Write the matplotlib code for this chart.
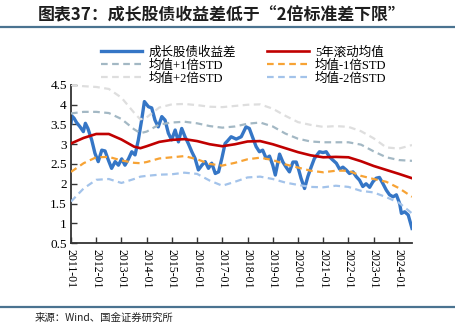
import matplotlib
matplotlib.use("Agg")
import matplotlib.pyplot as plt
from matplotlib.lines import Line2D

# ---------------- data ----------------
spread_x = [2011.00, 2011.03, 2011.12, 2011.22, 2011.36, 2011.49, 2011.57, 2011.67, 2011.82, 2011.95,
            2012.08, 2012.22, 2012.35, 2012.48, 2012.61, 2012.75, 2012.88, 2013.01, 2013.14, 2013.28,
            2013.41, 2013.54, 2013.67, 2013.80, 2013.91, 2014.07, 2014.20, 2014.33, 2014.46, 2014.60,
            2014.73, 2014.86, 2014.99, 2015.13, 2015.26, 2015.39, 2015.52, 2015.65, 2015.79, 2015.92,
            2016.05, 2016.19, 2016.32, 2016.45, 2016.58, 2016.72, 2016.85, 2016.98, 2017.11, 2017.20,
            2017.35, 2017.55, 2017.75, 2017.94, 2018.07, 2018.21, 2018.34, 2018.47, 2018.60, 2018.74,
            2018.87, 2019.00, 2019.10, 2019.27, 2019.40, 2019.53, 2019.66, 2019.80, 2019.93, 2020.03,
            2020.12, 2020.26, 2020.39, 2020.52, 2020.65, 2020.85, 2020.99, 2021.12, 2021.25, 2021.38,
            2021.52, 2021.65, 2021.78, 2021.91, 2022.04, 2022.18, 2022.31, 2022.44, 2022.57, 2022.70,
            2022.84, 2022.97, 2023.10, 2023.23, 2023.37, 2023.50, 2023.63, 2023.77, 2023.90, 2024.03,
            2024.10, 2024.23, 2024.37, 2024.52]
spread_y = [3.53, 3.72, 3.66, 3.55, 3.44, 3.32, 3.53, 3.40, 3.11, 2.77,
            2.56, 2.85, 2.83, 2.60, 2.39, 2.56, 2.47, 2.63, 2.47, 2.63,
            2.81, 2.73, 3.11, 3.61, 4.08, 3.95, 3.92, 3.61, 3.44, 3.70,
            3.61, 3.28, 3.11, 3.36, 3.06, 3.40, 3.19, 3.02, 2.81, 2.64,
            2.35, 2.47, 2.56, 2.39, 2.52, 2.26, 2.30, 2.64, 3.02, 3.08,
            3.19, 3.13, 3.19, 3.44, 3.40, 3.16, 2.94, 2.81, 2.85, 2.64,
            2.70, 2.47, 2.22, 2.75, 2.55, 2.42, 2.30, 2.55, 2.55, 2.35,
            2.14, 1.88, 2.18, 2.42, 2.64, 2.81, 2.79, 2.81, 2.68, 2.60,
            2.52, 2.37, 2.42, 2.35, 2.26, 2.30, 2.18, 2.09, 1.93, 2.00,
            1.91, 2.05, 2.14, 2.16, 2.00, 1.84, 1.72, 1.67, 1.72, 1.50,
            1.25, 1.29, 1.21, 0.87]

band_x = [2011.0, 2011.5, 2012.0, 2012.5, 2013.0, 2013.5, 2013.75, 2014.0, 2014.5, 2015.0,
          2015.5, 2016.0, 2016.5, 2017.0, 2017.5, 2018.0, 2018.5, 2019.0, 2019.5, 2020.0,
          2020.5, 2021.0, 2021.5, 2022.0, 2022.5, 2023.0, 2023.5, 2024.0, 2024.52]
mean_5y = [3.02, 3.16, 3.26, 3.26, 3.12, 2.94, 2.90, 2.95, 3.06, 3.11,
           3.13, 3.08, 3.00, 2.95, 3.00, 3.07, 3.08, 3.00, 2.90, 2.80,
           2.72, 2.67, 2.68, 2.67, 2.57, 2.45, 2.35, 2.25, 2.14]
plus_1std = [3.78, 3.82, 3.82, 3.79, 3.64, 3.38, 3.28, 3.32, 3.50, 3.55,
             3.57, 3.53, 3.46, 3.42, 3.45, 3.52, 3.55, 3.45, 3.27, 3.14,
             3.07, 3.05, 3.05, 3.05, 2.99, 2.82, 2.67, 2.60, 2.58]
plus_2std = [4.50, 4.47, 4.45, 4.40, 4.18, 3.80, 3.63, 3.68, 3.93, 4.01,
             4.02, 3.99, 3.95, 3.94, 3.97, 4.00, 4.01, 3.90, 3.72, 3.56,
             3.49, 3.44, 3.46, 3.44, 3.33, 3.15, 2.92, 2.89, 2.98]
minus_1std = [2.30, 2.52, 2.67, 2.68, 2.59, 2.53, 2.52, 2.55, 2.64, 2.67,
              2.70, 2.62, 2.50, 2.46, 2.53, 2.62, 2.66, 2.60, 2.49, 2.41,
              2.33, 2.29, 2.33, 2.33, 2.20, 2.12, 2.05, 1.89, 1.67]
minus_2std = [1.55, 1.88, 2.10, 2.12, 2.02, 2.12, 2.18, 2.20, 2.23, 2.24,
              2.28, 2.25, 2.08, 1.95, 2.05, 2.16, 2.18, 2.12, 2.03, 1.97,
              1.92, 1.91, 1.95, 1.92, 1.82, 1.78, 1.66, 1.52, 1.25]

tick_years = list(range(2011, 2025))
tick_labels = [f"{y}-01" for y in tick_years]
y_ticks = [0.5, 1, 1.5, 2, 2.5, 3, 3.5, 4, 4.5]
y_labels = ["0.5", "1", "1.5", "2", "2.5", "3", "3.5", "4", "4.5"]

series_names = ["成长股债收益差", "5年滚动均值", "均值+1倍STD", "均值-1倍STD", "均值+2倍STD", "均值-2倍STD"]
title_text = "图表37：成长股债收益差低于“2倍标准差下限”"
source_text = "来源：Wind、国金证券研究所"

# ---------------- style ----------------
SERIF = ["Liberation Serif", "Noto Sans CJK SC", "DejaVu Sans"]
CJK = ["Noto Sans CJK SC", "DejaVu Sans"]
c_blue = "#3576c6"
c_red = "#c00000"
c_p1 = "#a3b8c4"
c_p2 = "#dedede"
c_m1 = "#f7a335"
c_m2 = "#a3c3ea"
c_rule = "#4a7390"

fig = plt.figure(figsize=(4.56, 3.33), dpi=100)
ax = fig.add_axes([71 / 456, 1 - 243 / 333, (412 - 71) / 456, (243 - 85) / 333])

dash = (0, (3, 2))
l_blue, = ax.plot(spread_x, spread_y, color=c_blue, lw=2.4, zorder=2)
l_p2, = ax.plot(band_x, plus_2std, color=c_p2, lw=1.6, linestyle=dash, zorder=3)
l_p1, = ax.plot(band_x, plus_1std, color=c_p1, lw=1.6, linestyle=dash, zorder=3)
l_m1, = ax.plot(band_x, minus_1std, color=c_m1, lw=1.6, linestyle=dash, zorder=3)
l_m2, = ax.plot(band_x, minus_2std, color=c_m2, lw=1.6, linestyle=dash, zorder=3)
l_red, = ax.plot(band_x, mean_5y, color=c_red, lw=1.9, zorder=4)

ax.set_xlim(2011.0, 2024.52)
ax.set_ylim(0.5, 4.5)
ax.set_xticks(tick_years)
ax.set_xticklabels(tick_labels, rotation=-90, family=SERIF, fontsize=8.5)
ax.set_yticks(y_ticks)
ax.set_yticklabels(y_labels, family=SERIF, fontsize=9.5)
ax.tick_params(axis="both", direction="in", length=4, width=1, color="#333333", pad=3)
ax.tick_params(axis="x", pad=4)
for s in ["top", "right"]:
    ax.spines[s].set_visible(False)
for s in ["left", "bottom"]:
    ax.spines[s].set_linewidth(1.3)
    ax.spines[s].set_color("#333333")

handles = [l_blue, l_p1, l_p2, l_red, l_m1, l_m2]
labels = [series_names[0], series_names[2], series_names[4],
          series_names[1], series_names[3], series_names[5]]
leg = fig.legend(handles, labels, ncol=2, frameon=False,
                 loc="upper left", bbox_to_anchor=(101 / 456, 1 - 46 / 333),
                 prop={"family": SERIF, "size": 9},
                 handlelength=3.3, handletextpad=0.5, columnspacing=2.5,
                 labelspacing=0.08, borderaxespad=0, borderpad=0)

# title and rules
fig.text(222 / 456, 1 - 15 / 333, title_text, ha="center", va="center",
         fontsize=12.2, fontweight="bold", style="italic", family=CJK, color="#1e1e1e")
fig.add_artist(Line2D([0, 1], [1 - 27 / 333, 1 - 27 / 333], color=c_rule, lw=1.6,
                      transform=fig.transFigure))
fig.add_artist(Line2D([0, 1], [1 - 307 / 333, 1 - 307 / 333], color=c_rule, lw=1.6,
                      transform=fig.transFigure))
fig.text(35 / 456, 1 - 318 / 333, source_text, ha="left", va="center",
         fontsize=7.5, family=CJK, color="#222222")

fig.savefig("out.png", dpi=100)
